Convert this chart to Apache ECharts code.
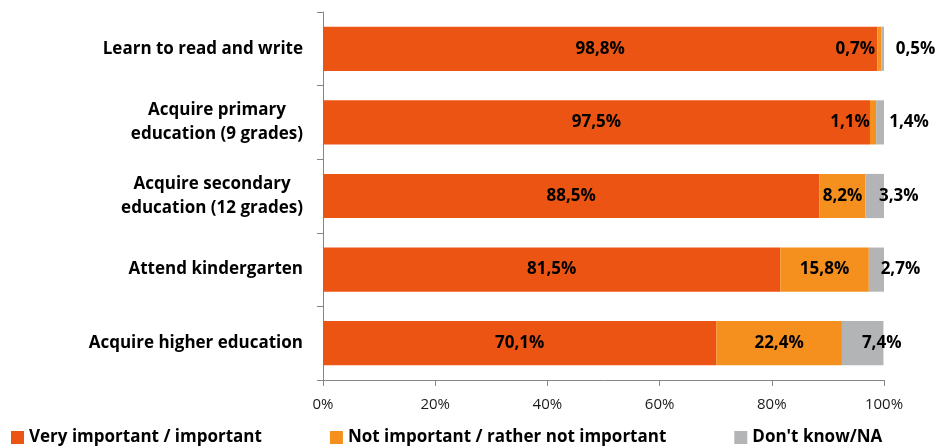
<!DOCTYPE html>
<html>
<head>
<meta charset="utf-8">
<script src="https://cdn.jsdelivr.net/npm/echarts@6/dist/echarts.min.js"></script>
<style>html,body{margin:0;padding:0;background:#fff}#c{width:939px;height:446px}</style>
</head>
<body>
<div id="c"></div>
<script>
var categories = ['Learn to read and write', 'Acquire primary\neducation (9 grades)', 'Acquire secondary\neducation (12 grades)', 'Attend kindergarten', 'Acquire higher education'];
var seriesNames = ['Very important / important', 'Not important / rather not important', "Don't know/NA"];
var veryImportant = [98.8, 97.5, 88.5, 81.5, 70.1];
var notImportant = [0.7, 1.1, 8.2, 15.8, 22.4];
var dontKnow = [0.5, 1.4, 3.3, 2.7, 7.4];
var xTicks = [0, 20, 40, 60, 80, 100];

var colors = ['#EB5412', '#F5901F', '#B2B4B6'];
var FONT = '"Open Sans"';
var fmt = function (v) { return v.toFixed(1).replace('.', ',') + '%'; };

// label offsets (presentation only)
var orangeOffsets = [-24, -23, 0, 0, 0];
var grayOffsets = [33, 29, 24, 24, 19];

function mk(vals, offs) {
  return vals.map(function (v, i) {
    var o = { value: v };
    if (offs) o.label = { offset: [offs[i], 0] };
    return o;
  });
}

var labelBase = { show: true, position: 'inside', color: '#000', fontFamily: FONT, fontWeight: 'bold', fontSize: 17,
  formatter: function (p) { return fmt(p.value); } };

var chart = echarts.init(document.getElementById('c'));
chart.setOption({
  animation: false,
  color: colors,
  grid: { left: 323, right: 55, top: 12, bottom: 66, containLabel: false },
  legend: {
    left: 6, bottom: -5, itemWidth: 13, itemHeight: 13, itemGap: 68, icon: 'rect',
    textStyle: { fontFamily: FONT, fontWeight: 'bold', fontSize: 17, color: '#000' },
    data: seriesNames
  },
  xAxis: {
    type: 'value', min: 0, max: 100, interval: 20,
    axisLine: { show: true, lineStyle: { color: '#868686' } },
    axisTick: { show: true, length: 6, lineStyle: { color: '#868686' } },
    splitLine: { show: false },
    axisLabel: { margin: 17, fontFamily: FONT, fontSize: 15, color: '#1a1a1a', formatter: function (v) { return v + '%'; } }
  },
  yAxis: {
    type: 'category', inverse: true, data: categories,
    axisLine: { show: true, lineStyle: { color: '#868686' } },
    axisTick: { show: true, length: 6, lineStyle: { color: '#868686' } },
    axisLabel: {
      margin: 20, fontFamily: FONT, fontWeight: 'bold', fontSize: 17, color: '#000', lineHeight: 24, align: 'right',
      formatter: function (v) {
        if (v.indexOf('\n') < 0) return v;
        return v.split('\n').map(function (l) { return '{c|' + l + '}'; }).join('\n');
      },
      rich: { c: { align: 'center', fontFamily: FONT, fontWeight: 'bold', fontSize: 17, color: '#000', lineHeight: 24 } }
    }
  },
  series: [
    { name: seriesNames[0], type: 'bar', stack: 's', barWidth: '60%', data: mk(veryImportant), label: labelBase },
    { name: seriesNames[1], type: 'bar', stack: 's', barWidth: '60%', data: mk(notImportant, orangeOffsets), label: labelBase },
    { name: seriesNames[2], type: 'bar', stack: 's', barWidth: '60%', data: mk(dontKnow, grayOffsets), label: labelBase }
  ]
});
</script>
</body>
</html>
